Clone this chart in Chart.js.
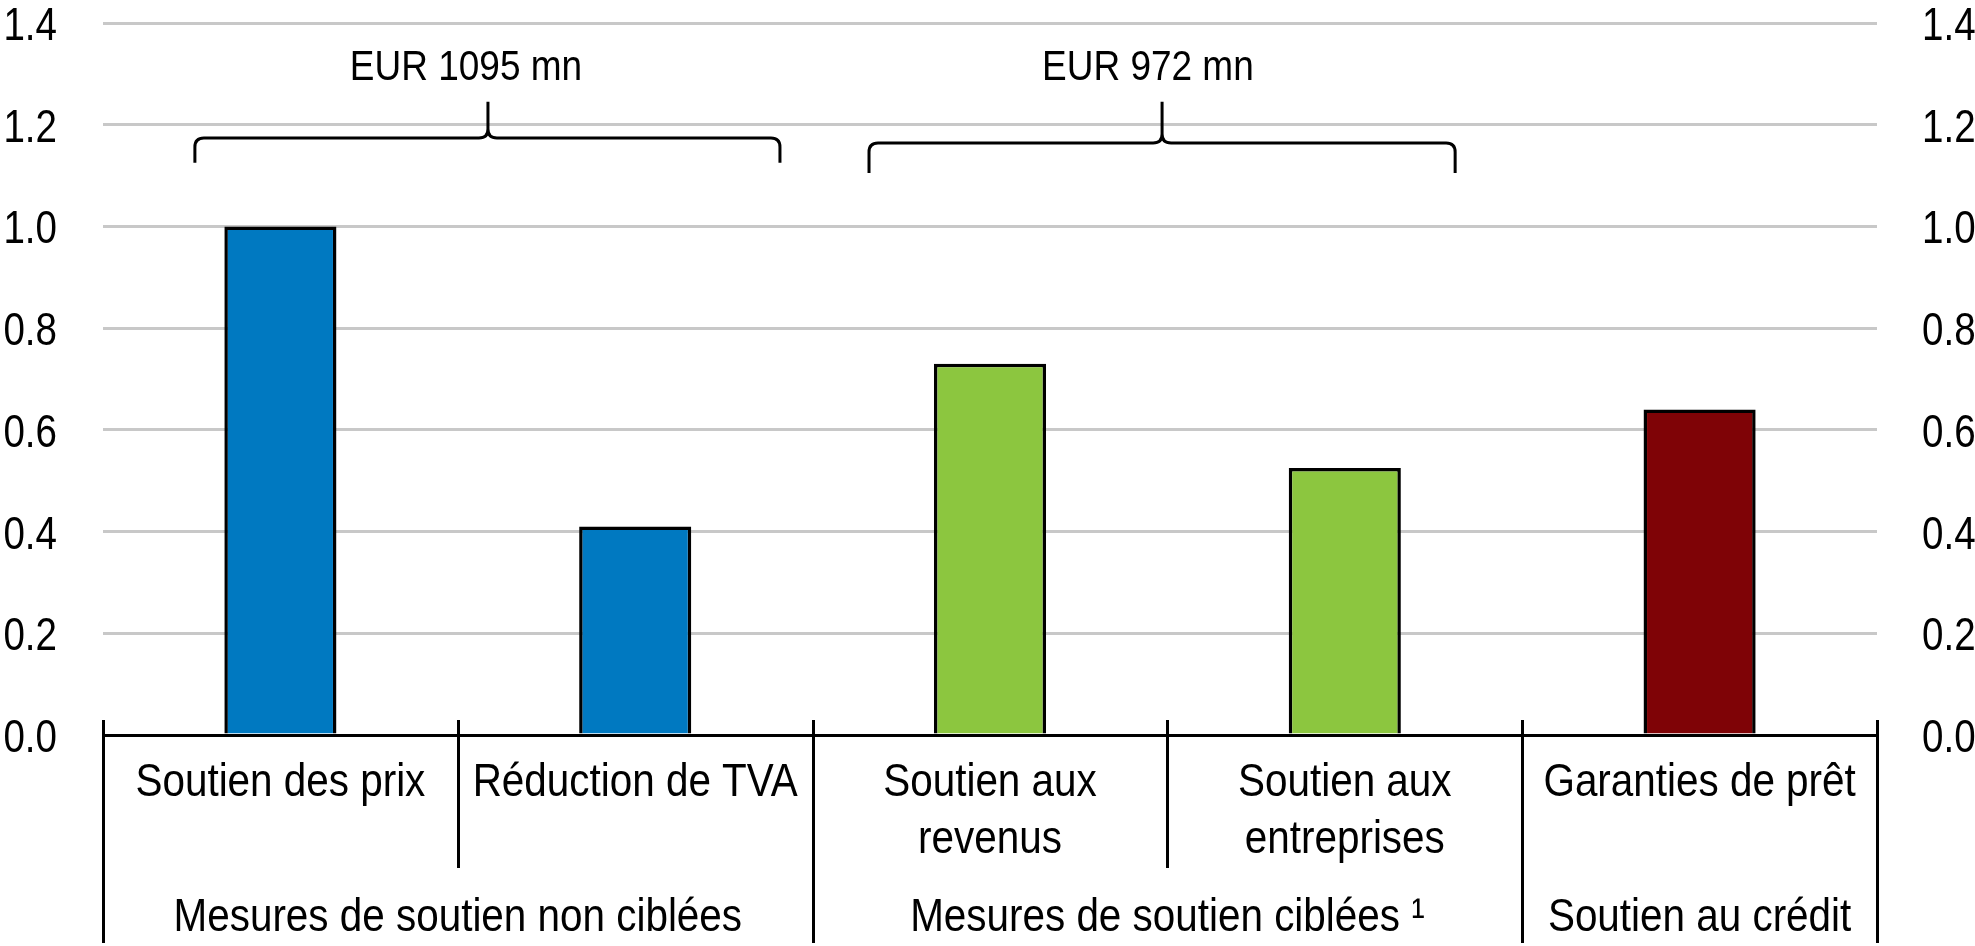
<!DOCTYPE html>
<html>
<head>
<meta charset="utf-8">
<script src="https://cdn.jsdelivr.net/npm/chart.js@4"></script>
<style>
  html, body { margin: 0; padding: 0; background: #ffffff; }
  #wrap { width: 1975px; height: 946px; }
</style>
</head>
<body>
<div id="wrap"><canvas id="c" width="1975" height="946"></canvas></div>
<script>
// ---- data ----
const categories = [
  ["Soutien des prix"],
  ["Réduction de TVA"],
  ["Soutien aux", "revenus"],
  ["Soutien aux", "entreprises"],
  ["Garanties de prêt"]
];
const values = [1.00, 0.41, 0.73, 0.525, 0.64];
const groupLabels = ["Mesures de soutien non ciblées", "Mesures de soutien ciblées ¹", "Soutien au crédit"];
const groupStart = [0, 2, 4];
const groupEnd = [1, 3, 4];
const braceLabels = ["EUR 1095 mn", "EUR 972 mn"];
const yTicks = [0.0, 0.2, 0.4, 0.6, 0.8, 1.0, 1.2, 1.4];

// ---- styles ----
const barColors = ["#0079C1", "#0079C1", "#8CC63F", "#8CC63F", "#7F0306"];
const FONT = "'Liberation Sans', Arial, sans-serif";
// brace anchors in scale units (x: category index, y: value axis)
const braceGeom = [
  { x0: -0.241, x1: 1.408, xc: 0.585, xt: 0.523, yh: 1.174, yEnd: 1.125, yTip: 1.245, yText: 1.288 },
  { x0: 1.659, x1: 3.311, xc: 2.485, xt: 2.445, yh: 1.164, yEnd: 1.105, yTip: 1.245, yText: 1.288 }
];

function drawText(ctx, text, x, y, align, size, sx) {
  ctx.save();
  ctx.font = size + "px " + FONT;
  ctx.textAlign = align;
  ctx.textBaseline = 'alphabetic';
  ctx.translate(x, y);
  ctx.scale(sx, 1);
  ctx.fillText(text, 0, 0);
  ctx.restore();
}

const overlay = {
  id: 'overlay',
  afterDraw(chart) {
    const ctx = chart.ctx;
    const xs = chart.scales.x, ys = chart.scales.y, ys2 = chart.scales.y2;
    const area = chart.chartArea;
    const yAxis = area.bottom;
    ctx.save();
    ctx.strokeStyle = '#000';
    ctx.fillStyle = '#000';
    ctx.lineWidth = 3;
    // y tick labels (both sides)
    ys.ticks.forEach(t => {
      const y = ys.getPixelForValue(t.value);
      drawText(ctx, Number(t.value).toFixed(1), ys.right - 46, y + 17, 'right', 47, 0.82);
    });
    ys2.ticks.forEach(t => {
      const y = ys2.getPixelForValue(t.value);
      drawText(ctx, Number(t.value).toFixed(1), ys2.left + 45, y + 17, 'left', 47, 0.82);
    });
    // separators
    const n = categories.length;
    for (let i = 0; i <= n; i++) {
      const xv = xs.getPixelForValue(i - 0.5);
      const isGroupEdge = (i === 0 || i === n || groupStart.includes(i));
      ctx.beginPath();
      ctx.moveTo(Math.round(xv) + 0.5, yAxis - 15);
      ctx.lineTo(Math.round(xv) + 0.5, isGroupEdge ? yAxis + 208 : yAxis + 133);
      ctx.stroke();
    }
    // category labels
    categories.forEach((lines, i) => {
      const xc = xs.getPixelForValue(i);
      lines.forEach((t, k) => drawText(ctx, t, xc, yAxis + 61 + k * 57, 'center', 47, 0.86));
    });
    // group labels
    groupLabels.forEach((t, g) => {
      const xc = xs.getPixelForValue((groupStart[g] + groupEnd[g]) / 2);
      drawText(ctx, t, xc, yAxis + 196, 'center', 47, 0.86);
    });
    // braces
    ctx.lineWidth = 3;
    ctx.lineJoin = 'round';
    const r = 9;
    braceGeom.forEach((b, k) => {
      const xl = xs.getPixelForValue(b.x0), xr = xs.getPixelForValue(b.x1), xc = xs.getPixelForValue(b.xc);
      const yh = ys.getPixelForValue(b.yh), ye = ys.getPixelForValue(b.yEnd), yt = ys.getPixelForValue(b.yTip);
      ctx.beginPath();
      ctx.moveTo(xl, ye);
      ctx.lineTo(xl, yh + r);
      ctx.quadraticCurveTo(xl, yh, xl + r, yh);
      ctx.lineTo(xc - r, yh);
      ctx.quadraticCurveTo(xc, yh, xc, yh - r);
      ctx.lineTo(xc, yt);
      ctx.moveTo(xc, yh - r);
      ctx.quadraticCurveTo(xc, yh, xc + r, yh);
      ctx.lineTo(xr - r, yh);
      ctx.quadraticCurveTo(xr, yh, xr, yh + r);
      ctx.lineTo(xr, ye);
      ctx.stroke();
      drawText(ctx, braceLabels[k], xs.getPixelForValue(b.xt), ys.getPixelForValue(b.yText), 'center', 43, 0.86);
    });
    ctx.restore();
  }
};

const yAfterFit = (w) => (s) => { s.width = w; s.paddingTop = 0; s.paddingBottom = 0; };

new Chart(document.getElementById('c'), {
  type: 'bar',
  data: {
    labels: categories,
    datasets: [{
      data: values,
      backgroundColor: barColors,
      borderColor: '#000',
      borderWidth: 3.5,
      barPercentage: 0.316,
      categoryPercentage: 1.0
    }]
  },
  options: {
    responsive: false,
    animation: false,
    devicePixelRatio: 1,
    layout: { padding: { top: 23, left: 0, right: 0, bottom: 0 } },
    plugins: { legend: { display: false }, tooltip: { enabled: false } },
    scales: {
      x: {
        type: 'category',
        grid: { display: false, drawTicks: false },
        border: { display: true, color: '#000', width: 3 },
        ticks: { display: false },
        afterFit: (s) => { s.height = 211; s.paddingLeft = 0; s.paddingRight = 0; }
      },
      y: {
        position: 'left',
        min: 0, max: 1.4,
        afterBuildTicks: (s) => { s.ticks = yTicks.map(v => ({ value: v })); },
        grid: { color: '#C8C8C8', lineWidth: 3, drawTicks: false },
        border: { display: false },
        ticks: { display: false },
        afterFit: yAfterFit(103)
      },
      y2: {
        position: 'right',
        min: 0, max: 1.4,
        afterBuildTicks: (s) => { s.ticks = yTicks.map(v => ({ value: v })); },
        grid: { display: false, drawTicks: false },
        border: { display: false },
        ticks: { display: false },
        afterFit: yAfterFit(98)
      }
    }
  },
  plugins: [overlay]
});
</script>
</body>
</html>
